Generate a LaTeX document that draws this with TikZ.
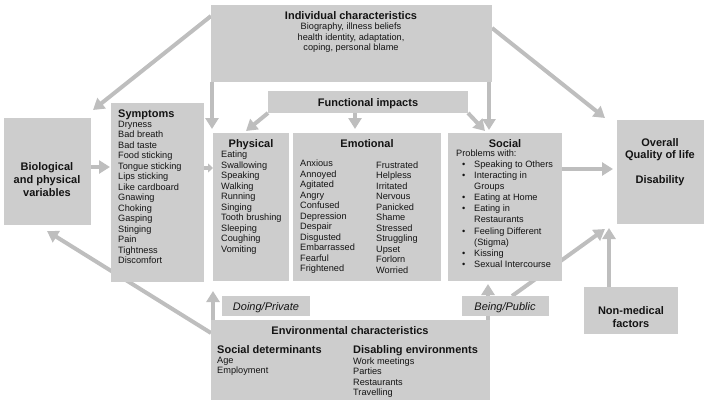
\documentclass[tikz,border=0pt]{standalone}
\usepackage{fontspec}
\setmainfont{Liberation Sans}
\usetikzlibrary{arrows.meta,fit,backgrounds,calc}
\definecolor{boxgray}{RGB}{205,205,205}
\definecolor{arrgray}{RGB}{190,190,190}
\definecolor{txt}{RGB}{20,20,20}
\newcommand\socbul{\makebox[12pt][l]{•}}
\newcommand\socgap{\hspace*{12pt}}
\begin{document}
\begin{tikzpicture}[x=1pt,y=1pt,
  box/.style={fill=boxgray, draw=none, inner sep=0pt, outer sep=0pt},
  arr/.style={draw=arrgray, line width=4pt, -{Triangle[length=11pt,width=13pt]}},
  ttl/.style={font=\fontsize{11}{13}\selectfont\bfseries, inner sep=0pt, text=txt, align=center},
  bod/.style={font=\fontsize{9.2}{10.5}\selectfont, inner sep=0pt, text=txt, align=left},
  bodc/.style={font=\fontsize{9.2}{10.5}\selectfont, inner sep=0pt, text=txt, align=center},
  itl/.style={font=\fontsize{11}{13}\selectfont\itshape, inner sep=0pt, text=txt}]
\useasboundingbox (0,0) rectangle (708,-405);

% boxes
\node[box, fit={(211,-5)(492,-82)}] (ind) {};
\node[box, fit={(268,-91)(468,-113)}] (func) {};
\node[box, fit={(4,-118)(91,-225)}] (bio) {};
\node[box, fit={(111,-103)(204,-282)}] (sym) {};
\node[box, fit={(213,-133)(289,-281)}] (phys) {};
\node[box, fit={(293,-133)(441,-281)}] (emo) {};
\node[box, fit={(448,-133)(562,-281)}] (soc) {};
\node[box, fit={(617,-120)(704,-224)}] (ovr) {};
\node[box, fit={(584,-287)(678,-334)}] (nonmed) {};
\node[box, fit={(211,-320)(490,-400)}] (env) {};
\node[box, fit={(222,-296)(310,-316)}] (doing) {};
\node[box, fit={(462,-296)(549,-316)}] (being) {};

% texts
\node[ttl, anchor=base] (indT) at (351,-19) {Individual characteristics};
\node[bodc, anchor=north] (indS) at (351,-22.7) {Biography, illness beliefs\\health identity, adaptation,\\coping, personal blame};
\node[ttl, anchor=base] (funcT) at (368,-106) {Functional impacts};
\node[ttl, anchor=north] (bioT) at (47,-162) {Biological\\and physical\\variables};
\node[ttl, anchor=base west] (symT) at (118,-117) {Symptoms};
\node[bod, anchor=north west] (symL) at (118,-120.7) {Dryness\\Bad breath\\Bad taste\\Food sticking\\Tongue sticking\\Lips sticking\\Like cardboard\\Gnawing\\Choking\\Gasping\\Stinging\\Pain\\Tightness\\Discomfort};
\node[ttl, anchor=base] (physT) at (251,-147) {Physical};
\node[bod, anchor=north west] (physL) at (221,-150.7) {Eating\\Swallowing\\Speaking\\Walking\\Running\\Singing\\Tooth brushing\\Sleeping\\Coughing\\Vomiting};
\node[ttl, anchor=base] (emoT) at (367,-147) {Emotional};
\node[bod, anchor=north west] (emoL1) at (300,-159.7) {Anxious\\Annoyed\\Agitated\\Angry\\Confused\\Depression\\Despair\\Disgusted\\Embarrassed\\Fearful\\Frightened};
\node[bod, anchor=north west] (emoL2) at (376,-161.5) {Frustrated\\Helpless\\Irritated\\Nervous\\Panicked\\Shame\\Stressed\\Struggling\\Upset\\Forlorn\\Worried};
\node[ttl, anchor=base] (socT) at (505,-147) {Social};
\node[bod, anchor=base west] (socP) at (456,-156) {Problems with:};
\node[bod, anchor=north west, font=\fontsize{9.2}{11.08}\selectfont] (socL) at (462,-160.7) {\socbul Speaking to Others\\\socbul Interacting in\\\socgap Groups\\\socbul Eating at Home\\\socbul Eating in\\\socgap Restaurants\\\socbul Feeling Different\\\socgap (Stigma)\\\socbul Kissing\\\socbul Sexual Intercourse};
\node[ttl, anchor=north, font=\fontsize{11}{12.5}\selectfont\bfseries] (ovrT) at (660,-138) {Overall\\Quality of life\\[12.5pt]Disability};
\node[ttl, anchor=north] (nonT) at (631,-306) {Non-medical\\factors};
\node[ttl, anchor=base] (envT) at (350,-334) {Environmental characteristics};
\node[ttl, anchor=base west] (envA) at (217,-353) {Social determinants};
\node[bod, anchor=north west, font=\fontsize{9.2}{10}\selectfont] (envAL) at (217,-357.4) {Age\\Employment};
\node[ttl, anchor=base west] (envB) at (353,-353) {Disabling environments};
\node[bod, anchor=north west] (envBL) at (353,-357.4) {Work meetings\\Parties\\Restaurants\\Travelling};
\node[itl, anchor=base] (doingT) at (266,-310) {Doing/Private};
\node[itl, anchor=base] (beingT) at (505,-310) {Being/Public};

% arrows
\begin{scope}[on background layer]
\coordinate (t1) at (93,-110);
\coordinate (t2) at (605,-118);
\coordinate (t3) at (212,-129);
\coordinate (t4) at (489,-130);
\coordinate (t5) at (246,-131);
\coordinate (t6) at (355,-129);
\coordinate (t7) at (485,-131);
\coordinate (t8) at (110,-167);
\coordinate (t9) at (213,-168);
\coordinate (t10) at (613,-169);
\coordinate (t11) at (605,-229);
\coordinate (t12) at (609,-228);
\coordinate (t13) at (47,-231);
\coordinate (t14) at (213,-291);
\coordinate (t15) at (488,-284);
\draw[arr] ($(ind.north west)+(0,-11)$) -- (t1);
\draw[arr] ($(ind.north east)+(0,-23)$) -- (t2);
\draw[arr] (ind.south -| t3) -- (t3);
\draw[arr] (ind.south -| t4) -- (t4);
\draw[arr] (func.south west) -- (t5);
\draw[arr] (func.south -| t6) -- (t6);
\draw[arr] (func.south east) -- (t7);
\draw[arr] (bio.east |- t8) -- (t8);
\draw[draw=arrgray, line width=4pt, -{Triangle[length=5pt,width=9pt]}] (sym.east |- t9) -- (t9);
\draw[arr] (soc.east |- t10) -- (t10);
\draw[arr] ($(being.north west)+(50,0)$) -- (t11);
\draw[arr] (nonmed.north -| t12) -- (t12);
\draw[arr] ($(env.north west)+(0,-13)$) -- (t13);
\draw[arr] (env.north -| t14) -- (t14);
\draw[arr] (env.north -| t15) -- (t15);
\end{scope}
\end{tikzpicture}
\end{document}
